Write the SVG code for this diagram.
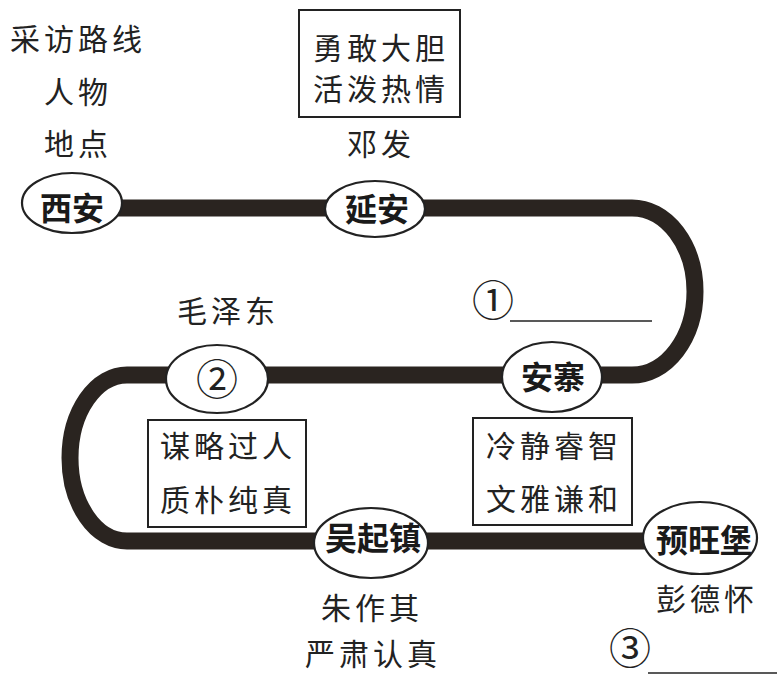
<svg xmlns="http://www.w3.org/2000/svg" width="777" height="676" viewBox="0 0 777 676">
<style>
  .t { font-family: "Noto Sans CJK SC", "Noto Sans", sans-serif; font-size: 30px; fill: #222; text-anchor: middle; letter-spacing: 4px; }
  .c { font-family: "Noto Sans CJK SC", "DejaVu Sans", sans-serif; font-size: 42px; fill: #222; text-anchor: middle; }
  .n { font-family: "Noto Sans CJK SC", "Noto Sans", sans-serif; font-size: 32px; font-weight: bold; fill: #1a1a1a; text-anchor: middle; }
  .ov { fill: #fff; stroke: #222; stroke-width: 2.2; }
  .bx { fill: none; stroke: #222; stroke-width: 2; }
  .track { fill: none; stroke: #2a2420; stroke-width: 17; }
  .blank { stroke: #222; stroke-width: 1.6; }
</style>
<rect width="777" height="676" fill="#fff"/>
<g id="connectors">
  <path class="track" d="M 100 208 H 632 A 63 83.5 0 0 1 632 375 H 127 A 57 83 0 0 0 127 541 H 660"/>
</g>
<g id="legend">
  <text class="t" x="78" y="50">采访路线</text>
  <text class="t" x="78" y="103">人物</text>
  <text class="t" x="78" y="155">地点</text>
</g>
<g id="node-xian">
  <ellipse class="ov" cx="72" cy="203" rx="50" ry="30"/>
  <text class="n" x="72" y="220">西安</text>
</g>
<g id="node-yanan">
  <rect class="bx" x="299" y="10" width="161" height="107"/>
  <text class="t" x="381" y="59">勇敢大胆</text>
  <text class="t" x="381" y="100">活泼热情</text>
  <text class="t" x="381" y="155">邓发</text>
  <ellipse class="ov" cx="375" cy="209" rx="50" ry="28"/>
  <text class="n" x="377" y="221">延安</text>
</g>
<g id="node-anzhai">
  <text class="c" x="493" y="316">①</text>
  <line class="blank" x1="510" y1="321" x2="652" y2="321"/>
  <ellipse class="ov" cx="552" cy="377" rx="50" ry="35"/>
  <text class="n" x="553" y="389">安寨</text>
  <rect class="bx" x="473" y="418" width="159" height="107"/>
  <text class="t" x="554" y="457">冷静睿智</text>
  <text class="t" x="554" y="510">文雅谦和</text>
</g>
<g id="node-2">
  <text class="t" x="228" y="322">毛泽东</text>
  <ellipse class="ov" cx="217" cy="379" rx="51" ry="34"/>
  <text class="c" x="217" y="395">②</text>
  <rect class="bx" x="148" y="420" width="158" height="107"/>
  <text class="t" x="228" y="457">谋略过人</text>
  <text class="t" x="228" y="511">质朴纯真</text>
</g>
<g id="node-wuqizhen">
  <ellipse class="ov" cx="371" cy="543" rx="57" ry="35"/>
  <text class="n" x="373" y="550">吴起镇</text>
  <text class="t" x="372" y="619">朱作其</text>
  <text class="t" x="373" y="665">严肃认真</text>
</g>
<g id="node-yuwangbao">
  <ellipse class="ov" cx="700" cy="538" rx="57" ry="36"/>
  <text class="n" x="704" y="552">预旺堡</text>
  <text class="t" x="707" y="610">彭德怀</text>
  <text class="c" x="630" y="664">③</text>
  <line class="blank" x1="648" y1="673" x2="777" y2="673"/>
</g>
</svg>
